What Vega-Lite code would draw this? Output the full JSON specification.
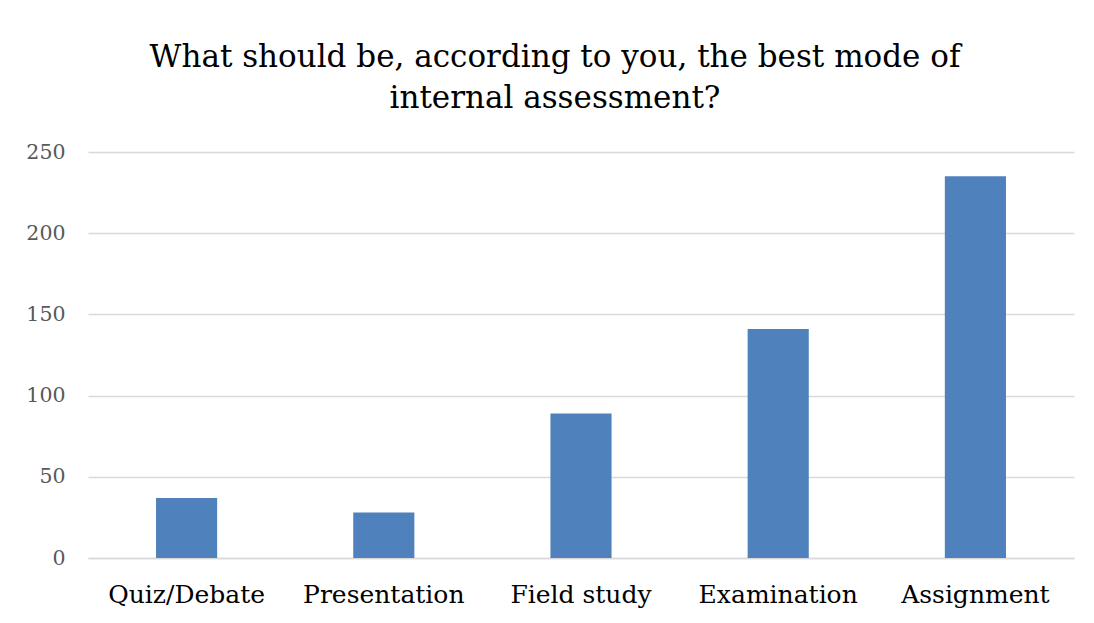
{
  "$schema": "https://vega.github.io/schema/vega-lite/v6.json",
  "width": 986,
  "height": 406,
  "autosize": {"type": "none"},
  "padding": {"left": 88, "top": 152, "right": 20, "bottom": 65},
  "background": "white",
  "title": {
    "text": ["What should be, according to you, the best mode of", "internal assessment?"],
    "anchor": "middle",
    "frame": "group",
    "dx": -26,
    "font": "DejaVu Serif",
    "fontSize": 31,
    "fontWeight": "normal",
    "color": "#000000",
    "lineHeight": 41,
    "offset": 27
  },
  "data": {
    "values": [
      {"mode": "Quiz/Debate", "count": 37},
      {"mode": "Presentation", "count": 28},
      {"mode": "Field study", "count": 89},
      {"mode": "Examination", "count": 141},
      {"mode": "Assignment", "count": 235}
    ]
  },
  "mark": {"type": "bar", "color": "#4F81BD"},
  "encoding": {
    "x": {
      "field": "mode",
      "type": "nominal",
      "sort": null,
      "scale": {"paddingInner": 0.69, "paddingOuter": 0.345},
      "axis": {
        "title": null,
        "labelAngle": 0,
        "labelFont": "DejaVu Serif",
        "labelFontSize": 25,
        "labelColor": "#000000",
        "labelPadding": 24,
        "ticks": false,
        "domain": true,
        "domainColor": "#d9d9d9",
        "domainWidth": 1.5
      }
    },
    "y": {
      "field": "count",
      "type": "quantitative",
      "scale": {"domain": [0, 250]},
      "axis": {
        "title": null,
        "values": [0, 50, 100, 150, 200, 250],
        "labelFont": "DejaVu Serif",
        "labelFontSize": 20.5,
        "labelColor": "#595959",
        "labelPadding": 23,
        "ticks": false,
        "domain": false,
        "grid": true,
        "gridColor": "#d9d9d9",
        "gridWidth": 1.5
      }
    }
  },
  "config": {"view": {"stroke": null}}
}
